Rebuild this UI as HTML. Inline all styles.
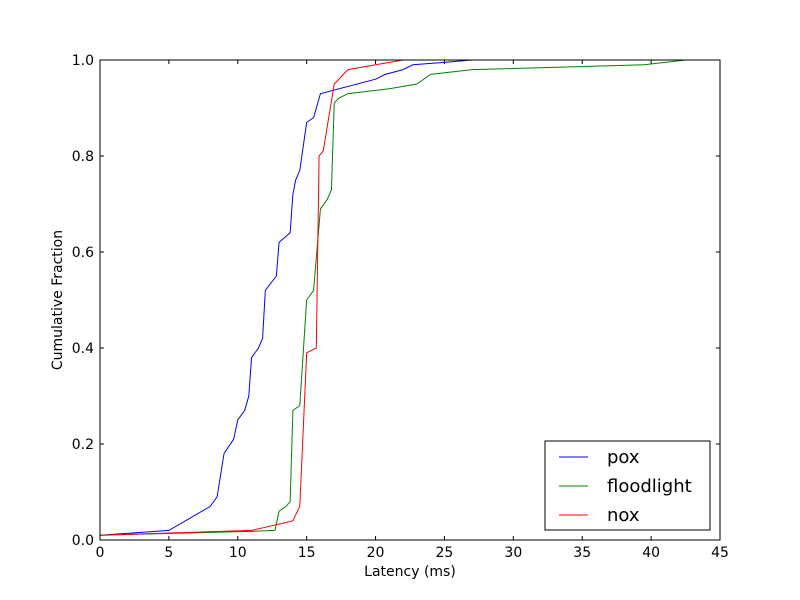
<!DOCTYPE html>
<html><head><meta charset="utf-8"><style>
html,body{margin:0;padding:0;background:#fff;}
svg{display:block;font-family:"DejaVu Sans","Liberation Sans",sans-serif;}
</style></head><body>
<svg id="chart" width="800" height="600" viewBox="0 0 800 600">
<rect width="800" height="600" fill="#fff"/>
<g id="plot"></g>
</svg>
<script>
const xTicks=[0,5,10,15,20,25,30,35,40,45];
const yTicks=[0,0.2,0.4,0.6,0.8,1.0];
const seriesNames=["pox","floodlight","nox"];
const seriesColors=["#0000ff","#008000","#ff0000"];
const poxX=[0,5,8,8.5,9,9.7,10,10.5,10.8,11,11.5,11.8,12,12.8,13,13.8,14,14.2,14.5,15,15.5,16,20,20.7,22,22.7,25,27];
const poxY=[0.01,0.02,0.07,0.09,0.18,0.21,0.25,0.27,0.30,0.38,0.40,0.42,0.52,0.55,0.62,0.64,0.72,0.75,0.77,0.87,0.88,0.93,0.96,0.97,0.98,0.99,0.995,1.0];
const floodX=[0,11,12.7,13,13.5,13.8,14,14.5,15,15.5,16,16.5,16.8,17,17.3,18,21,23,24,27,39.5,42.5];
const floodY=[0.01,0.018,0.02,0.06,0.07,0.08,0.27,0.28,0.5,0.52,0.69,0.71,0.73,0.91,0.92,0.93,0.94,0.95,0.97,0.98,0.99,1.0];
const noxX=[0,11,14,14.5,15,15.7,15.9,16.2,17,18,22];
const noxY=[0.01,0.02,0.04,0.07,0.39,0.40,0.80,0.81,0.95,0.98,1.0];
const L=100,R=720,T=60,B=540;
const sx=v=>L+(v-0)/(45-0)*(R-L);
const sy=v=>B-(v-0)/(1-0)*(B-T);
const NS="http://www.w3.org/2000/svg";
const g=document.getElementById('plot');
function mk(tag,attrs,parent){const e=document.createElementNS(NS,tag);for(const k in attrs)e.setAttribute(k,attrs[k]);(parent||g).appendChild(e);return e;}
const sX=[poxX,floodX,noxX],sY=[poxY,floodY,noxY],sN=["pox-line","floodlight-line","nox-line"];
sX.forEach((xs,i)=>{
  const p=mk('polyline',{points:xs.map((x,j)=>sx(x)+','+sy(sY[i][j])).join(' '),fill:'none',stroke:seriesColors[i],'stroke-width':1});
  
  
});
const frame=mk('rect',{x:L,y:T,width:R-L,height:B-T,fill:'none',stroke:'#000','stroke-width':1});


xTicks.forEach(t=>{
  const x=sx(t);
  mk('line',{x1:x,y1:B,x2:x,y2:B-4,stroke:'#000'});
  mk('line',{x1:x,y1:T,x2:x,y2:T+4,stroke:'#000'});
  const tx=mk('text',{x:x,y:B+17,'text-anchor':'middle','font-size':14});
  tx.textContent=t;
  
  
});
yTicks.forEach(t=>{
  const y=sy(t);
  mk('line',{x1:L,y1:y,x2:L+4,y2:y,stroke:'#000'});
  mk('line',{x1:R,y1:y,x2:R-4,y2:y,stroke:'#000'});
  const tx=mk('text',{x:L-6,y:y+5,'text-anchor':'end','font-size':14});
  tx.textContent=t.toFixed(1);
  
  
});
const xt=mk('text',{x:410,y:576,'text-anchor':'middle','font-size':14});
xt.textContent='Latency (ms)';


const yt=mk('text',{x:62,y:300,'text-anchor':'middle','font-size':14,transform:'rotate(-90 62 300)'});
yt.textContent='Cumulative Fraction';


const lg=mk('g',{});


mk('rect',{x:545,y:441,width:165,height:89,fill:'#fff',stroke:'#000'},lg);
seriesNames.forEach((n,i)=>{
  const y=457+i*29;
  mk('line',{x1:559,y1:y,x2:588,y2:y,stroke:seriesColors[i]},lg);
  const t=mk('text',{x:607,y:y+6,'font-size':18},lg);
  t.textContent=n;
  
  
});
</script>
</body></html>
